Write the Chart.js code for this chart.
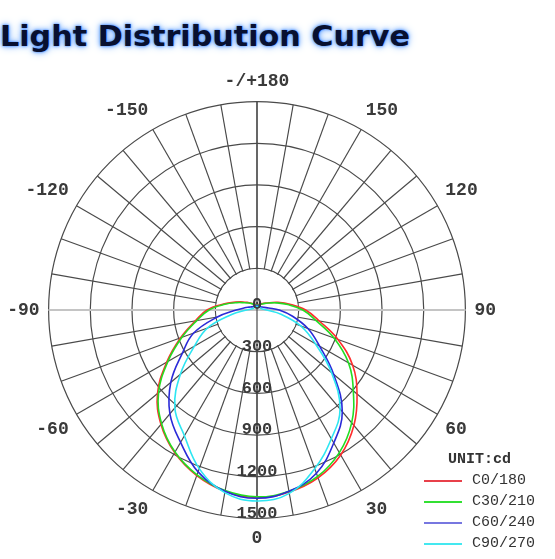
<!DOCTYPE html>
<html>
<head>
<meta charset="utf-8">
<script src="https://cdn.jsdelivr.net/npm/chart.js@4.4.1/dist/chart.umd.min.js"></script>
<style>
  html, body { margin: 0; padding: 0; background: #fff; }
  body { width: 555px; height: 559px; position: relative; overflow: hidden; }
  #title {
    position: absolute; left: 0; top: 20px; margin: 0;
    font-family: "DejaVu Sans", sans-serif; font-size: 28px; font-weight: bold;
    color: #081030; white-space: nowrap; transform-origin: 0 0;
    text-shadow: 0 0 2px #3a80ff, 0 0 5px #5a9cff, 0 0 9px #9cc6ff;
  }
  #chart { position: absolute; left: -43px; top: 72px; }
  #legend {
    position: absolute; left: 420px; top: 450px; width: 135px;
    font-family: "Liberation Mono", monospace; font-size: 15px; color: #333;
  }
  #legend .unit { font-weight: bold; margin-left: 28px; height: 20px; line-height: 20px; }
  #legend .row { position: relative; height: 21px; line-height: 21px; }
  #legend .sw { position: absolute; left: 4px; top: 10px; width: 38px; height: 2px; }
  #legend .tx { position: absolute; left: 52px; top: 0; }
</style>
</head>
<body>
<h1 id="title">Light Distribution Curve</h1>
<canvas id="chart" width="600" height="478"></canvas>
<div id="legend"></div>
<script>
// gamma angles, starting at the bottom (0) and going clockwise
const angles = [0, -10, -20, -30, -40, -50, -60, -70, -80, -90, -100, -110, -120, -130, -140, -150, -160, -170,
  180, 170, 160, 150, 140, 130, 120, 110, 100, 90, 80, 70, 60, 50, 40, 30, 20, 10];

// candela values per C plane, same order as angles
const c0 = [1350, 1325, 1268, 1185, 1075, 935, 750, 585, 450, 360, 245, 165, 116, 84, 64, 52, 44, 38,
  36, 38, 44, 50, 60, 78, 105, 160, 240, 350, 455, 620, 795, 940, 1085, 1205, 1285, 1330];
const c30 = [1345, 1320, 1262, 1180, 1068, 925, 740, 575, 440, 345, 235, 155, 105, 78, 60, 48, 40, 35,
  33, 35, 40, 46, 56, 74, 100, 150, 225, 330, 430, 590, 760, 905, 1060, 1185, 1275, 1325];
const c60 = [1355, 1325, 1240, 1100, 975, 810, 620, 485, 290, 150, 90, 60, 45, 38, 35, 33, 33, 32,
  32, 32, 33, 33, 34, 36, 42, 55, 85, 160, 260, 390, 520, 720, 955, 1105, 1250, 1325];
const c90 = [1375, 1335, 1215, 1045, 920, 720, 520, 380, 185, 75, 42, 32, 28, 27, 26, 26, 26, 26,
  26, 26, 26, 26, 26, 27, 28, 32, 40, 68, 175, 335, 485, 700, 930, 1070, 1215, 1340];

const seriesNames = ['C0/180', 'C30/210', 'C60/240', 'C90/270'];
const seriesColors = ['#ff2d2d', '#22dd22', '#2a2ad8', '#2ee6f2'];
const legendColors = ['#e8404a', '#33e033', '#7777e0', '#44e8f0'];
const tickValues = [0, 300, 600, 900, 1200, 1500];
const unitLabel = 'UNIT:cd';

// title: stretch to the width of the original
const title = document.getElementById('title');
title.style.transform = 'scaleX(' + (410 / title.getBoundingClientRect().width) + ')';

// legend
const legend = document.getElementById('legend');
let html = '<div class="unit">' + unitLabel + '</div>';
seriesNames.forEach((n, i) => {
  html += '<div class="row"><span class="sw" style="background:' + legendColors[i] + '"></span><span class="tx">' + n + '</span></div>';
});
legend.innerHTML = html;

// white hole inside the first ring, axis lines through the centre, tick labels
const polarDecor = {
  id: 'polarDecor',
  beforeDatasetsDraw(chart) {
    const s = chart.scales.r;
    const c = chart.ctx;
    const r0 = s.getDistanceFromCenterForValue(tickValues[1]);
    const rMax = s.getDistanceFromCenterForValue(tickValues[tickValues.length - 1]);
    c.save();
    c.fillStyle = '#fff';
    c.beginPath();
    c.arc(s.xCenter, s.yCenter, r0 - 0.8, 0, Math.PI * 2);
    c.fill();
    c.strokeStyle = '#c4c4c4';
    c.lineWidth = 2;
    c.beginPath();
    c.moveTo(s.xCenter - rMax, s.yCenter);
    c.lineTo(s.xCenter + rMax, s.yCenter);
    c.stroke();
    c.strokeStyle = '#4a4a4a';
    c.lineWidth = 1.2;
    c.beginPath();
    c.moveTo(s.xCenter, s.yCenter - rMax);
    c.lineTo(s.xCenter, s.yCenter + rMax);
    c.stroke();
    c.restore();
  },
  afterDatasetsDraw(chart) {
    const s = chart.scales.r;
    const c = chart.ctx;
    c.save();
    c.font = 'bold 17px "Liberation Mono", monospace';
    c.fillStyle = '#3a3a3a';
    c.textAlign = 'center';
    c.textBaseline = 'middle';
    tickValues.forEach(v => {
      c.fillText(String(v), s.xCenter, s.yCenter + s.getDistanceFromCenterForValue(v) - 5);
    });
    c.restore();
  }
};

new Chart(document.getElementById('chart'), {
  type: 'radar',
  data: {
    labels: angles,
    datasets: [c0, c30, c60, c90].map((d, i) => ({
      label: seriesNames[i],
      data: d,
      borderColor: seriesColors[i],
      backgroundColor: 'transparent',
      borderWidth: 1.6,
      fill: false,
      tension: 0.4,
      pointRadius: 0,
      order: 4 - i
    }))
  },
  options: {
    responsive: false,
    animation: false,
    plugins: { legend: { display: false }, tooltip: { enabled: false } },
    layout: { padding: 0 },
    scales: {
      r: {
        min: 0,
        max: 1500,
        startAngle: 180,
        ticks: { stepSize: 300, display: false },
        grid: { circular: true, color: '#4a4a4a', lineWidth: 1.2 },
        angleLines: {
          color: ctx => (ctx.index === 9 || ctx.index === 27) ? '#c4c4c4' : '#4a4a4a',
          lineWidth: ctx => (ctx.index === 9 || ctx.index === 27) ? 2 : 1.2
        },
        pointLabels: {
          padding: 9,
          color: '#3a3a3a',
          font: { family: '"Liberation Mono", monospace', size: 18, weight: 'bold' },
          callback: v => v % 30 !== 0 ? '' : (v === 180 ? '-/+180' : String(v))
        }
      }
    }
  },
  plugins: [polarDecor]
});
</script>
</body>
</html>
